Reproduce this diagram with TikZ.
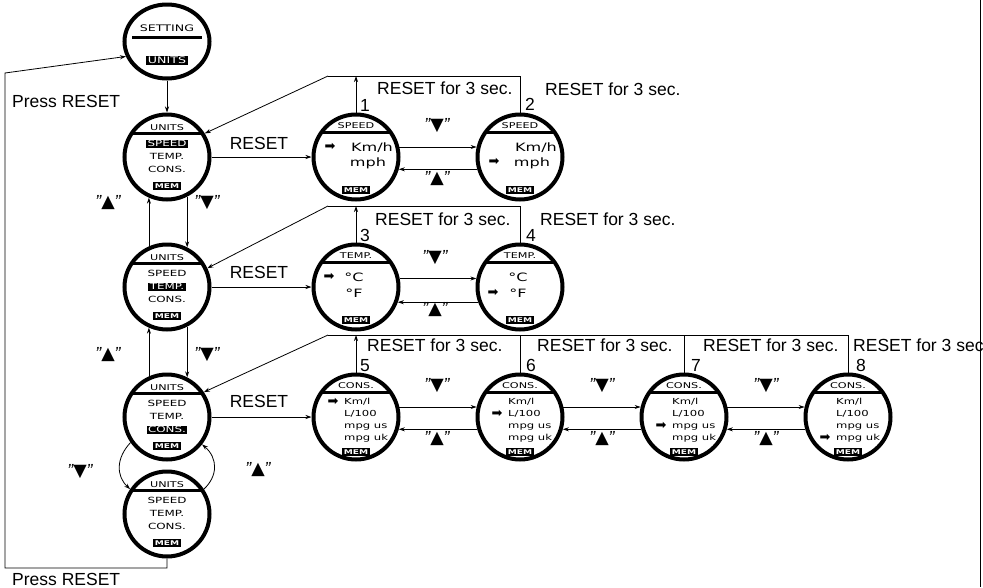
\documentclass[tikz,border=0pt]{standalone}
\usepackage{fontspec}
\setmainfont{Liberation Sans}
\newfontfamily\lcd{DejaVu Sans}
\newfontfamily\symf{DejaVu Sans}
\usetikzlibrary{arrows.meta,calc,shapes.geometric}
\newcommand\lw[1]{\scalebox{1.4}[1]{#1}}
\newcommand\qdown{{\itshape"}{\symf ▼}{\itshape"}}
\newcommand\qup{{\itshape"}{\symf ▲}{\itshape"}}
\newcommand\dialbar[2]{%
  \begin{scope}
    \clip (#1.center) circle[radius=42pt];
    \draw[line width=3pt] ($(#1.center)+(-50,#2)$) -- ($(#1.center)+(50,#2)$);
  \end{scope}}
\newcommand\unitsdial[6]{%
  \node[dial] (#1) at (#2,#3) {};
  \dialbar{#1}{-24}
  \node[lcdhdr] (#1-h) at ($(#1.center)+(0,-29.5)$) {\lw{UNITS}};
  \node[lcditem,#4] (#1-a) at ($(#1.center)+(0,-13)$) {\lw{SPEED}};
  \node[lcditem,#5] (#1-b) at (#1.center) {\lw{TEMP.}};
  \node[lcditem,#6] (#1-c) at ($(#1.center)+(0,13)$) {\lw{CONS.}};
  \node[mem] (#1-m) at ($(#1.center)+(0,29)$) {\lw{MEM}};}
\newcommand\statedial[5]{%
  \node[dial] (#1) at (#2,#3) {};
  \dialbar{#1}{-25}
  \node[lcdhdr] (#1-h) at ($(#1.center)+(0,-31)$) {\lw{#4}};
  \node[mem] (#1-m) at ($(#1.center)+(0,#5)$) {\lw{MEM}};}
\newcommand\consitems[2]{%
  \node[lcdcons] (#1-a) at ($(#1.center)+(-12,-15)$) {\lw{Km/l}};
  \node[lcdcons] (#1-b) at ($(#1.center)+(-12,-3)$) {\lw{L/100}};
  \node[lcdcons] (#1-c) at ($(#1.center)+(-12,9)$) {\lw{mpg us}};
  \node[lcdcons] (#1-d) at ($(#1.center)+(-12,21)$) {\lw{mpg uk}};
  \node[ptr] (#1-p) at ($(#1.center)+(-23,#2)$) {➡};}
\begin{document}
\begin{tikzpicture}[x=1pt,y=-1pt,
  dial/.style={circle,draw,line width=4pt,minimum size=85pt,inner sep=0pt},
  setdial/.style={ellipse,draw,line width=4pt,minimum width=85pt,minimum height=74pt,inner sep=0pt},
  conn/.style={line width=0.8pt},
  arr/.style={conn,-{Stealth[length=6pt,width=4pt]}},
  lbl/.style={font=\fontsize{17.5}{20}\selectfont,inner sep=0pt},
  lcdhdr/.style={font=\lcd\fontsize{8}{8}\selectfont,inner sep=0pt,text height=5.8pt,text depth=0pt},
  lcditem/.style={font=\lcd\fontsize{8.5}{8.5}\selectfont,inner sep=0pt,text height=6.2pt,text depth=0.3pt},
  lcdset/.style={font=\lcd\fontsize{9}{9}\selectfont,inner sep=0pt,text height=6.6pt,text depth=0pt},
  lcdcons/.style={font=\lcd\fontsize{8.3}{8.3}\selectfont,inner sep=0pt,anchor=west,text height=6pt,text depth=2pt},
  lcdbig/.style={font=\lcd\fontsize{11.5}{11.5}\selectfont,inner sep=0pt,text height=8.3pt,text depth=0pt},
  hl/.style={fill=black,text=white,inner xsep=1.5pt,inner ysep=1.2pt},
  nohl/.style={},
  mem/.style={fill=black,text=white,font=\lcd\fontsize{6.5}{6.5}\selectfont\bfseries,inner xsep=2pt,inner ysep=2pt,text height=4.8pt,text depth=0pt},
  ptr/.style={font=\symf\fontsize{13}{13}\selectfont,inner sep=0pt}
]
\fill[white] (0,0) rectangle (983,587);
\useasboundingbox (0,0) rectangle (983,587);

% ---------- left column ----------
\node[setdial] (set) at (167,41.5) {};
\coordinate (sb1) at (132,37);
\coordinate (sb2) at (202,37);
\draw[line width=3pt] (sb1) -- (sb2);
\node[lcdset] (set-h) at (167,28) {\lw{SETTING}};
\node[lcdset,hl] (set-u) at (167,60) {\lw{UNITS}};

\unitsdial{u1}{167}{157}{hl}{nohl}{nohl}
\unitsdial{u2}{167}{287}{nohl}{hl}{nohl}
\unitsdial{u3}{167}{417}{nohl}{nohl}{hl}
\unitsdial{u4}{167}{514}{nohl}{nohl}{nohl}

\draw[arr] (set.south) -- (u1.north);
\draw[arr] (u2.114) -- (u1.-114);
\draw[arr] (u1.-63) -- (u2.63);
\draw[arr] (u3.114) -- (u2.-114);
\draw[arr] (u2.-63) -- (u3.63);
\draw[arr] (u3.-145) .. controls (116,458) and (116,476) .. (u4.146);
\draw[arr] (u4.34) .. controls (218,476) and (218,458) .. (u3.-38);

\node[lbl] (lu1) at (108,203) {\qup};
\node[lbl] (ld1) at (207,203) {\qdown};
\node[lbl] (lu2) at (108,355) {\qup};
\node[lbl] (ld2) at (207,355) {\qdown};
\node[lbl] (ld3) at (80,472) {\qdown};
\node[lbl] (lu3) at (258,470) {\qup};

% outer return path
\coordinate (b1) at (5,568);
\coordinate (b2) at (5,73);
\draw[arr] (u4.south) |- (b1) -- (b2) -- (set.200);
\node[lbl,anchor=base west] (pr1) at (12,107) {Press RESET};
\node[lbl,anchor=base west] (pr2) at (12,585) {Press RESET};

% ---------- speed row ----------
\statedial{s1}{356}{157}{SPEED}{33}
\node[ptr] (s1-p) at ($(s1.center)+(-26,-10)$) {➡};
\node[lcdbig] (s1-a) at ($(s1.center)+(16,-10)$) {\lw{Km/h}};
\node[lcdbig] (s1-b) at ($(s1.center)+(12,5)$) {\lw{mph}};
\statedial{s2}{520}{157}{SPEED}{33}
\node[ptr] (s2-p) at ($(s2.center)+(-26,5)$) {➡};
\node[lcdbig] (s2-a) at ($(s2.center)+(16,-10)$) {\lw{Km/h}};
\node[lcdbig] (s2-b) at ($(s2.center)+(12,5)$) {\lw{mph}};

\draw[arr] (u1.east) -- (s1.west);
\node[lbl] (rs1) at (259,143) {RESET};
\draw[arr] (s1.13) -- (s2.167);
\draw[arr] (s2.-164) -- (s1.-16);
\node[lbl] (q1d) at (437,126) {\qdown};
\node[lbl] (q1u) at (437,179) {\qup};

\coordinate (r1) at (328,76);
\draw[arr] (r1) -- (u1.32);
\draw[conn] (r1) -- (s2.north |- r1) -- (s2.north);
\draw[arr] (s1.north) -- (s1.north |- r1);
\node[lbl,anchor=base west] (n1) at ($(s1.north)+(4,-1)$) {1};
\node[lbl,anchor=base west] (n2) at ($(s2.north)+(5,-2)$) {2};
\node[lbl,anchor=base west] (rt1) at (377,94) {RESET for 3 sec.};
\node[lbl,anchor=base west] (rt2) at (545,95) {RESET for 3 sec.};

% ---------- temp row ----------
\statedial{t3}{356}{287}{TEMP.}{33}
\node[ptr] (t3-p) at ($(t3.center)+(-27,-10)$) {➡};
\node[lcdbig] (t3-a) at ($(t3.center)+(-2,-10)$) {\lw{°C}};
\node[lcdbig] (t3-b) at ($(t3.center)+(-2,6)$) {\lw{°F}};
\statedial{t4}{520}{287}{TEMP.}{33}
\node[ptr] (t4-p) at ($(t4.center)+(-27,6)$) {➡};
\node[lcdbig] (t4-a) at ($(t4.center)+(-2,-10)$) {\lw{°C}};
\node[lcdbig] (t4-b) at ($(t4.center)+(-2,6)$) {\lw{°F}};

\draw[arr] (u2.east) -- (t3.west);
\node[lbl] (rs2) at (259,272) {RESET};
\draw[arr] (t3.11) -- (t4.169);
\draw[arr] (t4.-160) -- (t3.-20);
\node[lbl] (q2d) at (435,258) {\qdown};
\node[lbl] (q2u) at (435,310) {\qup};

\coordinate (r2) at (328,206);
\draw[arr] (r2) -- (u2.25);
\draw[conn] (r2) -- (t4.north |- r2) -- (t4.north);
\draw[arr] (t3.north) -- (t3.north |- r2);
\node[lbl,anchor=base west] (n3) at ($(t3.north)+(4,-1)$) {3};
\node[lbl,anchor=base west] (n4) at ($(t4.north)+(6,-1)$) {4};
\node[lbl,anchor=base west] (rt3) at (375,225) {RESET for 3 sec.};
\node[lbl,anchor=base west] (rt4) at (540,225) {RESET for 3 sec.};

% ---------- cons row ----------
\statedial{c5}{356}{417}{CONS.}{35}
\consitems{c5}{-15}
\statedial{c6}{520}{417}{CONS.}{35}
\consitems{c6}{-3}
\statedial{c7}{684}{417}{CONS.}{35}
\consitems{c7}{9}
\statedial{c8}{848}{417}{CONS.}{35}
\consitems{c8}{21}

\draw[arr] (u3.east) -- (c5.west);
\node[lbl] (rs3) at (259,401) {RESET};
\draw[arr] (c5.13) -- (c6.167);
\draw[arr] (c6.-164) -- (c5.-16);
\draw[arr] (c6.13) -- (c7.167);
\draw[arr] (c7.-164) -- (c6.-16);
\draw[arr] (c7.13) -- (c8.167);
\draw[arr] (c8.-164) -- (c7.-16);
\node[lbl] (q3d) at (437,386) {\qdown};
\node[lbl] (q3u) at (437,439) {\qup};
\node[lbl] (q4d) at (602,386) {\qdown};
\node[lbl] (q4u) at (602,439) {\qup};
\node[lbl] (q5d) at (766,386) {\qdown};
\node[lbl] (q5u) at (766,439) {\qup};

\coordinate (r3) at (328,335);
\draw[arr] (r3) -- (u3.34);
\draw[conn] (r3) -- (c8.north |- r3) -- (c8.north);
\draw[conn] (c6.north) -- (c6.north |- r3);
\draw[conn] (c7.north) -- (c7.north |- r3);
\draw[arr] (c5.north) -- (c5.north |- r3);
\node[lbl,anchor=base west] (n5) at ($(c5.north)+(4,-1)$) {5};
\node[lbl,anchor=base west] (n6) at ($(c6.north)+(6,-1)$) {6};
\node[lbl,anchor=base west] (n7) at ($(c7.north)+(7,-1)$) {7};
\node[lbl,anchor=base west] (n8) at ($(c8.north)+(8,-1)$) {8};
\node[lbl,anchor=base west] (rt5) at (367,351) {RESET for 3 sec.};
\node[lbl,anchor=base west] (rt6) at (537,351) {RESET for 3 sec.};
\node[lbl,anchor=base west] (rt7) at (703,351) {RESET for 3 sec.};
\node[lbl,anchor=base west] (rt8) at (853,351) {RESET for 3 sec};

% right border
\coordinate (e1) at (980,0);
\coordinate (e2) at (980,587);
\draw[line width=1pt] (e1) -- (e2);
\end{tikzpicture}
\end{document}
